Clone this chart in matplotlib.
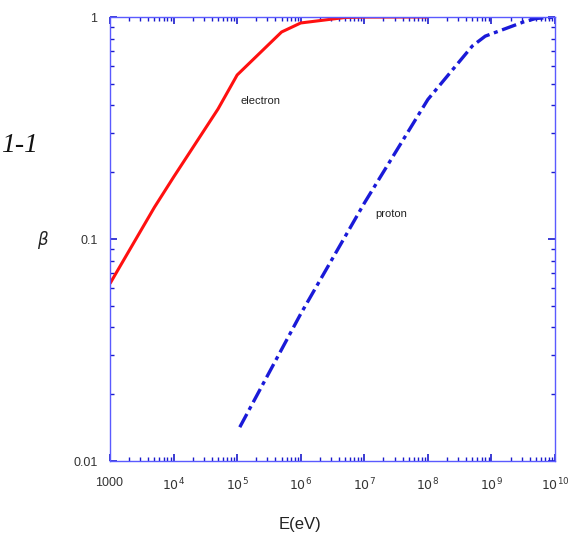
import matplotlib
matplotlib.use("Agg")
import matplotlib.pyplot as plt
from matplotlib.ticker import LogLocator, NullFormatter

plt.rcParams['font.family'] = ['Liberation Sans', 'DejaVu Sans']

# Data
electron_E = [1e3, 5e3, 1e4, 5e4, 1e5, 5e5, 1e6, 5e6, 1e7, 1e8]
electron_beta = [0.063, 0.139, 0.19, 0.385, 0.548, 0.856, 0.94, 0.995, 0.999, 1.0]
proton_E = [1.1e5, 1e6, 1e7, 1e8, 5e8, 8e8, 3.2e9, 5e9, 1e10]
proton_beta = [0.0142, 0.046, 0.145, 0.425, 0.74, 0.82, 0.95, 0.985, 0.998]

xticks = [1e3, 1e4, 1e5, 1e6, 1e7, 1e8, 1e9, 1e10]
xticklabels = [r'$\mathregular{1000}$', r'$10^4$', r'$10^5$', r'$10^6$', r'$10^7$', r'$10^8$', r'$10^9$', r'$10^{10}$']
yticks = [0.01, 0.1, 1]
yticklabels = ['0.01', '0.1', '1']

fig = plt.figure(figsize=(5.72, 5.37), dpi=100)
ax = fig.add_axes([110/572, 1-461/537, 445/572, 444/537])

ax.plot(electron_E, electron_beta, color='#ff1010', lw=2.2, solid_capstyle='butt')
ax.plot(proton_E, proton_beta, color='#1a1ad8', lw=2.4, dashes=(4.5, 1.4, 1.2, 1.4))

ax.set_xscale('log')
ax.set_yscale('log')
ax.set_xlim(1e3, 1e10)
ax.set_ylim(0.01, 1)

ax.set_xticks(xticks)
ax.set_xticklabels(xticklabels)
ax.set_yticks(yticks)
ax.set_yticklabels(yticklabels)
ax.xaxis.set_minor_locator(LogLocator(base=10, subs=range(2, 10), numticks=20))
ax.yaxis.set_minor_locator(LogLocator(base=10, subs=range(2, 10), numticks=20))
ax.xaxis.set_minor_formatter(NullFormatter())
ax.yaxis.set_minor_formatter(NullFormatter())

for s in ax.spines.values():
    s.set_color('#5a5aff')
    s.set_linewidth(1.0)
ax.tick_params(which='both', direction='in', top=True, right=True, color='#1a1acc')
ax.tick_params(axis='x', which='major', pad=11)
ax.tick_params(axis='y', which='major', pad=9)
ax.tick_params(which='major', length=5, width=1.2, labelsize=9, colors='#1a1acc', labelcolor='#333333')
ax.tick_params(which='minor', length=3, width=1.0)

ax.text(1.11e5, 0.42, 'electron', fontsize=8, color='#222222', va='center')
ax.text(1.5e7, 0.13, 'proton', fontsize=8, color='#222222', va='center')

fig.text(300/572, 1-525/537, 'E(eV)', fontsize=12, ha='center', va='center', color='#222222')
fig.text(43/572, 1-240/537, r'$\beta$', fontsize=12, ha='center', va='center', color='#222222')
fig.text(1/572, 1-145/537, '1-1', fontsize=20, ha='left', va='center', family='Liberation Serif', style='italic', color='#111111')

fig.savefig('out.png', dpi=100)
